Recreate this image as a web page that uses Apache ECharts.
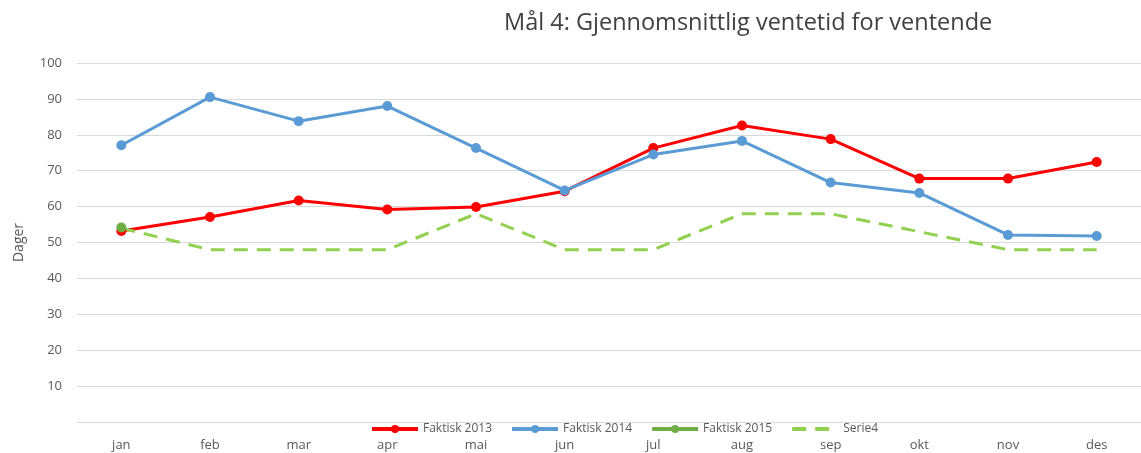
<!DOCTYPE html>
<html>
<head>
<meta charset="utf-8">
<script src="https://cdn.jsdelivr.net/npm/echarts@6/dist/echarts.min.js"></script>
<style>
  html, body { margin: 0; padding: 0; background: #fff; }
  #chart { width: 1141px; height: 453px; }
</style>
</head>
<body>
<div id="chart"></div>
<script>
var months = ['jan', 'feb', 'mar', 'apr', 'mai', 'jun', 'jul', 'aug', 'sep', 'okt', 'nov', 'des']
var faktisk2013 = [53.2, 57.1, 61.7, 59.2, 59.9, 64.3, 76.3, 82.6, 78.8, 67.8, 67.8, 72.4]
var faktisk2014 = [77.1, 90.5, 83.8, 88.0, 76.3, 64.5, 74.5, 78.3, 66.7, 63.8, 52.1, 51.8]
var faktisk2015 = [54.2, null, null, null, null, null, null, null, null, null, null, null]
var serie4 = [54, 48, 48, 48, 58, 48, 48, 58, 58, 53, 48, 48]

var font = '"Open Sans", sans-serif'
var textColor = '#595959'

var chart = echarts.init(document.getElementById('chart'))

var lineSeries = function (name, data, color) {
    return {
        name: name,
        type: 'line',
        data: data,
        symbol: 'circle',
        symbolSize: 10,
        itemStyle: { color: color },
        lineStyle: { color: color, width: 3 },
        emphasis: { disabled: true }
    }
}

var option = {
    animation: false,
    title: {
        text: 'Mål 4: Gjennomsnittlig ventetid for ventende',
        left: 499,
        top: 6,
        textStyle: { fontFamily: font, fontSize: 23.5, fontWeight: 'normal', color: '#404040' }
    },
    legend: {
        top: 418,
        left: 365,
        itemGap: 18,
        itemWidth: 46,
        itemHeight: 10,
        lineStyle: { width: 4 },
        textStyle: { fontFamily: font, fontSize: 12, color: textColor },
        data: [
            'Faktisk 2013',
            'Faktisk 2014',
            'Faktisk 2015',
            { name: 'Serie4', itemStyle: { opacity: 0 } }
        ]
    },
    grid: {
        left: 77,
        top: 63,
        width: 1073,
        height: 359
    },
    xAxis: {
        type: 'category',
        data: months,
        boundaryGap: true,
        axisLine: { lineStyle: { color: '#d9d9d9', width: 1 } },
        axisTick: { show: false },
        axisLabel: { fontFamily: font, fontSize: 13, color: textColor, margin: 17 }
    },
    yAxis: {
        type: 'value',
        min: 0,
        max: 100,
        interval: 10,
        name: 'Dager',
        nameLocation: 'middle',
        nameGap: 51,
        nameRotate: 90,
        nameTextStyle: { fontFamily: font, fontSize: 14, color: textColor },
        axisLine: { show: false },
        axisTick: { show: false },
        splitLine: { lineStyle: { color: '#d9d9d9', width: 1 } },
        axisLabel: {
            fontFamily: font, fontSize: 13, color: textColor, margin: 15,
            formatter: function (v) { return v === 0 ? '' : v }
        }
    },
    series: [
        lineSeries('Faktisk 2013', faktisk2013, '#ff0000'),
        lineSeries('Faktisk 2014', faktisk2014, '#5b9bd5'),
        lineSeries('Faktisk 2015', faktisk2015, '#70ad47'),
        {
            name: 'Serie4',
            type: 'line',
            data: serie4,
            symbol: 'none',
            itemStyle: { color: '#92d050' },
            lineStyle: { color: '#92d050', width: 3, type: [14, 9] },
            emphasis: { disabled: true }
        }
    ]
}

chart.setOption(option)
</script>
</body>
</html>
